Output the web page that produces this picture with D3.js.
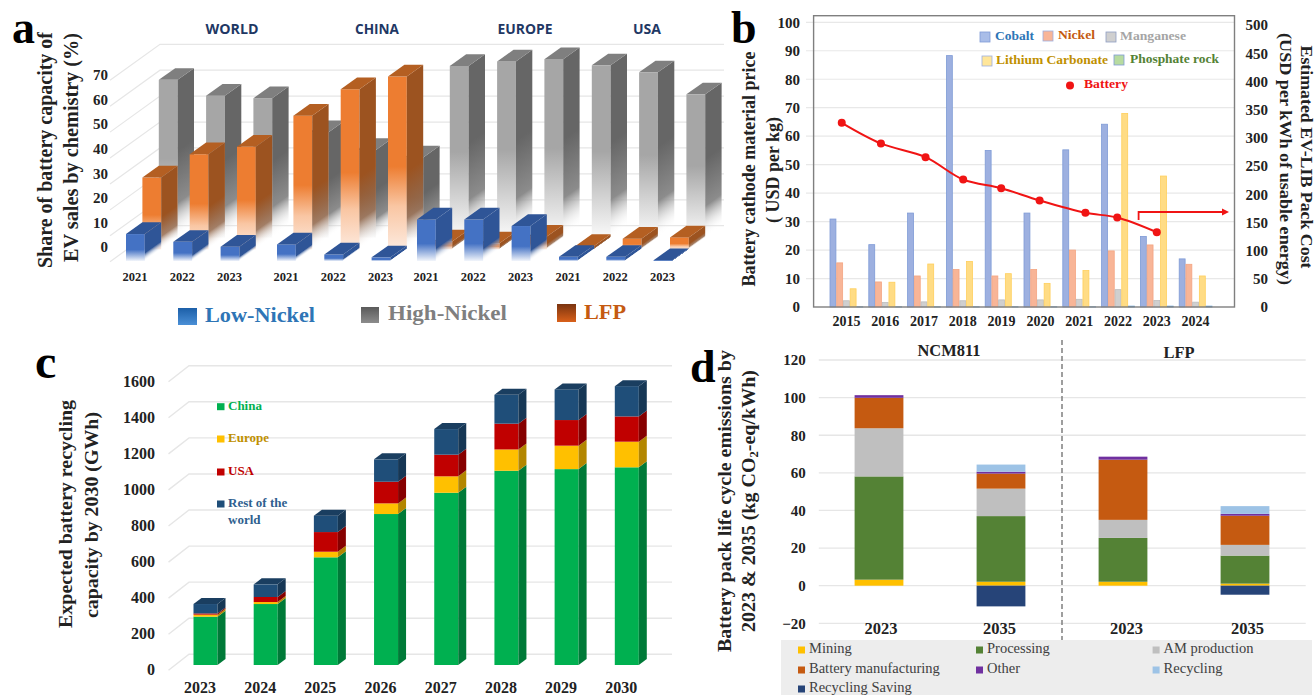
<!DOCTYPE html>
<html>
<head>
<meta charset="utf-8">
<script src="https://cdn.jsdelivr.net/npm/d3@7"></script>
<style>
body { margin: 0; background: #fff; }
text { font-family: "Liberation Serif", serif; }
</style>
</head>
<body>
<svg id="chart" width="1314" height="695"></svg>
<script>
// panel a - share of battery capacity
var a_regions = ["WORLD", "CHINA", "EUROPE", "USA"];
var a_years = ["2021", "2022", "2023"];
var a_lowNickel = [10.4, 7.4, 5.5, 6.4, 2.5, 1.4, 16, 16, 13.5, 1.6, 1.6, 0.3];
var a_lfp = [27.7, 36.7, 39.6, 51.6, 61.8, 66.7, 3, 2.3, 4.9, 1.3, 4.1, 4.6];
var a_highNickel = [60.9, 54.8, 53.8, 40.7, 33.8, 30.9, 66.3, 68, 68.9, 66.5, 63.8, 55.3];
var a_ticks = [0, 10, 20, 30, 40, 50, 60, 70];

// panel b - material prices and pack cost
var b_years = [2015, 2016, 2017, 2018, 2019, 2020, 2021, 2022, 2023, 2024];
var b_materials = ["Cobalt", "Nickel", "Manganese", "Lithium Carbonate", "Phosphate rock"];
var b_cobalt = [30.9, 21.9, 33, 88.3, 55, 33, 55.2, 64.2, 24.8, 16.9];
var b_nickel = [15.5, 8.8, 10.9, 13.2, 10.9, 13.2, 20, 19.7, 21.8, 15];
var b_manganese = [2.2, 1.6, 1.8, 2.2, 2.5, 2.5, 2.7, 6.1, 2.3, 1.7];
var b_lithium = [6.4, 8.7, 15.1, 16, 11.7, 8.3, 12.8, 68, 46, 10.9];
var b_phosphate = [0.05, 0.05, 0.05, 0.05, 0.05, 0.05, 0.05, 0.3, 0.3, 0.3];
var b_batteryYears = [2014.88, 2015.89, 2017.04, 2018.01, 2018.99, 2019.98, 2021.16, 2021.98, 2023];
var b_battery = [326.6, 290, 265.7, 226, 210.6, 188.8, 167, 158.6, 132.5];

// panel c - recycling capacity
var c_years = [2023, 2024, 2025, 2026, 2027, 2028, 2029, 2030];
var c_china = [268, 338, 597, 837, 955, 1077, 1086, 1096];
var c_europe = [11, 11, 31, 59, 91, 118, 130, 142];
var c_usa = [7, 28, 109, 120, 120, 143, 142, 140];
var c_rest = [52, 70, 91, 124, 142, 160, 170, 168];
var c_ticks = [0, 200, 400, 600, 800, 1000, 1200, 1400, 1600];

// panel d - life cycle emissions
var d_bars = ["NCM811 2023", "NCM811 2035", "LFP 2023", "LFP 2035"];
var d_labels = ["2023", "2035", "2023", "2035"];
var d_mining = [3.2, 2.1, 2.1, 1.1];
var d_processing = [54.9, 34.9, 23.3, 14.9];
var d_am = [25.6, 14.6, 9.6, 5.7];
var d_manufacturing = [16.2, 8, 32, 15.5];
var d_other = [1.4, 1, 1.6, 1];
var d_recycling = [0, 3.8, 0, 4.1];
var d_saving = [0, -11, 0, -4.8];
var d_ticks = [-20, 0, 20, 40, 60, 80, 100, 120];

var svg = d3.select("#chart");
var defs = svg.append("defs");
var gradCount = 0;

// helper for all the loose text, len squeezes it to the width in the picture
function label(x, y, str, size, color, opt) {
	opt = opt || {};
	var t = svg.append("text")
		.attr("transform", "translate(" + x + "," + y + ")" + (opt.rotate ? " rotate(" + opt.rotate + ")" : ""))
		.attr("text-anchor", opt.anchor || "start")
		.attr("dominant-baseline", opt.baseline || "middle")
		.attr("font-size", size)
		.attr("font-weight", opt.normal ? "normal" : "bold")
		.attr("fill", color)
		.text(str);
	if (opt.family) t.style("font-family", opt.family);
	if (opt.len) t.attr("textLength", opt.len).attr("lengthAdjust", "spacingAndGlyphs");
	return t;
}

// vertical gradient between y1 and y2, slope tilts it to follow a side face
function gradient(stops, y1, y2, xEdge, slope) {
	var id = "grad" + (gradCount++);
	var g = defs.append("linearGradient").attr("id", id)
		.attr("gradientUnits", "userSpaceOnUse")
		.attr("x1", 0).attr("x2", 0).attr("y1", y1).attr("y2", y2);
	if (slope) {
		g.attr("gradientTransform", "translate(" + xEdge + ",0) matrix(1," + (-slope) + ",0,1,0,0) translate(" + (-xEdge) + ",0)");
	}
	stops.forEach(function(s) {
		g.append("stop").attr("offset", s[0]).attr("stop-color", s[1]).attr("stop-opacity", s.length > 2 ? s[2] : 1);
	});
	return "url(#" + id + ")";
}

// one 3d column: front, side and top faces
function box(g, x, w, yTop, yBottom, dx, dy, front, side, top) {
	g.append("rect").attr("x", x).attr("y", yTop).attr("width", w).attr("height", Math.max(0, yBottom - yTop)).attr("fill", front);
	g.append("path").attr("fill", side).attr("d", "M" + (x + w) + "," + yTop + "l" + dx + "," + (-dy) + "V" + (yBottom - dy) + "l" + (-dx) + "," + dy + "Z");
	if (top) g.append("path").attr("fill", top).attr("d", "M" + x + "," + yTop + "l" + dx + "," + (-dy) + "h" + w + "l" + (-dx) + "," + dy + "Z");
}

function axisText(g, size) {
	g.select(".domain").remove();
	g.selectAll("text")
		.style("font-family", '"Liberation Serif", serif')
		.style("font-weight", "bold")
		.style("font-size", size + "px")
		.attr("fill", "#222");
}

/* ---------- panel a ---------- */
function panelA() {
	var g = svg.append("g");
	var dx = 16.4, dy = 11.7, w = 18.8, base = 261;
	var height = d3.scaleLinear().domain([0, 70]).range([0, 181.3]);
	var wallY = d3.scaleLinear().domain([0, 70]).range([225.7, 44.3]);

	// back wall and floor lines
	a_ticks.forEach(function(t) {
		g.append("path").attr("fill", "none").attr("stroke", "#e6e6e6").attr("stroke-width", 1.2)
			.attr("d", "M110," + (wallY(t) + 36) + "L160," + wallY(t) + "H724");
	});

	// regions do not sit evenly in the picture so each gets its own point scale
	var starts = [126, 277, 417, 559];
	var slotX = [];
	a_regions.forEach(function(r, i) {
		var x = d3.scalePoint().domain(a_years).range([starts[i], starts[i] + 94.6]);
		a_years.forEach(function(y) { slotX.push(x(y)); });
	});

	// the fades run per column, they start about half way down each one
	var series = [
		{ vals: a_highNickel, depth: 2, top: "#7f7f7f",
			front: [[0, "#a6a6a6"], [0.5, "#a6a6a6"], [0.75, "#d0d0d0"], [1, "#fafafa"]],
			side: [[0, "#666666"], [0.45, "#666666"], [0.78, "#8c8c8c"], [1, "#ffffff", 0]] },
		{ vals: a_lfp, depth: 1, top: "#b45f22",
			front: [[0, "#ed7d31"], [0.52, "#ed7d31"], [0.75, "#f9c6a3"], [1, "#fdeade"]],
			side: [[0, "#9c5320"], [0.55, "#9c5320"], [0.82, "#8a5a3a", 0.75], [1, "#ffffff", 0]] },
		{ vals: a_lowNickel, depth: 0, top: "#2f5597",
			front: [[0, "#4472c4"], [0.58, "#4472c4"], [1, "#f2f5fb"]],
			side: [[0, "#2f5597"], [0.7, "#2f5597"], [1, "#ffffff", 0]] }
	];
	series.forEach(function(s) {
		s.vals.forEach(function(v, i) {
			var bottom = base - s.depth * dy;
			var x = slotX[i] + s.depth * dx, yTop = bottom - height(v);
			box(g, x, w, yTop, bottom, dx, dy,
				gradient(s.front, yTop, bottom),
				gradient(s.side, yTop, bottom, x + w, dy / dx),
				s.top);
		});
	});

	// tick labels are not lined up with the wall, they have their own scale
	var tickY = d3.scaleLinear().domain([0, 70]).range([247, 75]);
	var ax = g.append("g").attr("transform", "translate(108,0)")
		.call(d3.axisLeft(tickY).tickValues(a_ticks).tickSize(0).tickPadding(0));
	axisText(ax, 15);

	slotX.forEach(function(x, i) {
		label(x + 9, 278, a_years[i % 3], 12.5, "#222", { anchor: "middle" });
	});

	var titleX = [232, 377, 525, 647], titleW = [53, 44, 55, 28];
	a_regions.forEach(function(r, i) {
		label(titleX[i], 30, r, 14, "#1f3864", { anchor: "middle", family: '"Open Sans", sans-serif', len: titleW[i] });
	});

	label(47, 150, "Share of battery capacity of", 20, "#222", { anchor: "middle", rotate: -90, len: 236 });
	label(73, 147.5, "EV sales by chemistry (%)", 20, "#222", { anchor: "middle", rotate: -90, len: 229 });

	// legend
	g.append("rect").attr("x", 178).attr("y", 308).attr("width", 19).attr("height", 17)
		.attr("fill", gradient([[0, "#1c5fa8"], [1, "#4a8fd6"]], 308, 325));
	g.append("rect").attr("x", 361).attr("y", 307).attr("width", 18).attr("height", 16)
		.attr("fill", gradient([[0, "#5a5a5a"], [1, "#8c8c8c"]], 307, 323));
	g.append("rect").attr("x", 557).attr("y", 304).attr("width", 19).attr("height", 18)
		.attr("fill", gradient([[0, "#7a3410"], [1, "#d9601a"]], 304, 322));
	label(205, 317, "Low-Nickel", 21, "#2e75b6", { len: 110 });
	label(388, 315, "High-Nickel", 21, "#7f7f7f", { len: 119 });
	label(584, 314, "LFP", 21, "#c55a11", { len: 42 });
}

/* ---------- panel b ---------- */
function panelB() {
	var g = svg.append("g");
	var left = 813.6, right = 1234.5, top = 15.7, bottom = 307;
	var y = d3.scaleLinear().domain([0, 100]).range([bottom, 22.3]);
	var yRight = d3.scaleLinear().domain([0, 500]).range([bottom, 25]);
	var x = d3.scaleBand().domain(b_years).range([827, 1215]);
	var xSub = d3.scaleBand().domain(b_materials).range([x.bandwidth() * 0.067, x.bandwidth() * 0.933]);
	// same spacing as the bands, for the line which is drawn off centre
	var xLine = d3.scaleLinear().domain([2015, 2024]).range([x(2015) + x.bandwidth() / 2, x(2024) + x.bandwidth() / 2]);

	d3.range(10, 101, 10).forEach(function(t) {
		g.append("line").attr("x1", 806).attr("x2", right).attr("y1", y(t)).attr("y2", y(t))
			.attr("stroke", "#e8e8e8").attr("stroke-width", 1.2);
	});

	var sets = [b_cobalt, b_nickel, b_manganese, b_lithium, b_phosphate];
	var fills = ["#9db0e0", "#f8b597", "#cfcfcf", "#ffdc85", "#a9d18e"];
	var strokes = ["#7f9bd6", "#f4a582", "#bdbdbd", "#ffcf5c", "#5b9bd5"];
	sets.forEach(function(vals, s) {
		g.selectAll(null).data(vals).join("rect")
			.attr("x", function(d, i) { return x(b_years[i]) + xSub(b_materials[s]) + 0.4; })
			.attr("width", xSub.bandwidth() - 0.8)
			.attr("y", function(d) { return y(d); })
			.attr("height", function(d) { return bottom - y(d); })
			.attr("fill", fills[s])
			.attr("stroke", strokes[s])
			.attr("stroke-width", 0.8);
	});

	g.append("rect").attr("x", left).attr("y", top).attr("width", right - left).attr("height", bottom - top)
		.attr("fill", "none").attr("stroke", "#7f7f7f").attr("stroke-width", 1.4);

	var line = d3.line()
		.x(function(d, i) { return xLine(b_batteryYears[i]); })
		.y(function(d) { return yRight(d); })
		.curve(d3.curveCatmullRom.alpha(0.5));
	g.append("path").datum(b_battery).attr("d", line).attr("fill", "none").attr("stroke", "#f01414").attr("stroke-width", 2);
	g.selectAll(null).data(b_battery).join("circle")
		.attr("cx", function(d, i) { return xLine(b_batteryYears[i]); })
		.attr("cy", function(d) { return yRight(d); })
		.attr("r", 4).attr("fill", "#f01414");

	// arrow pointing at the right hand axis
	g.append("path").attr("fill", "none").attr("stroke", "#f01414").attr("stroke-width", 1.8)
		.attr("d", "M1138.6,220V212H1223");
	g.append("path").attr("fill", "#f01414").attr("d", "M1229,212l-7,-3.5v7Z");

	var axL = g.append("g").attr("transform", "translate(800,0)")
		.call(d3.axisLeft(y).tickValues(d3.range(0, 101, 10)).tickSize(0).tickPadding(0));
	axisText(axL, 15);
	var axR = g.append("g").attr("transform", "translate(1268,0)")
		.call(d3.axisLeft(yRight).tickValues(d3.range(0, 501, 50)).tickSize(0).tickPadding(0));
	axisText(axR, 15);

	b_years.forEach(function(yr) {
		label(x(yr) + x.bandwidth() / 2, 323, yr, 14, "#222", { anchor: "middle" });
	});

	label(750.5, 169, "Battery cathode material price", 18, "#222", { anchor: "middle", rotate: -90, len: 235 });
	label(775, 170, "( USD per kg)", 18, "#222", { anchor: "middle", rotate: -90, len: 106 });
	label(1304.5, 157, "Estimated EV-LIB Pack Cost", 16, "#222", { anchor: "middle", rotate: 90, len: 223 });
	label(1284, 159, "(USD per kWh of usable energy)", 16, "#222", { anchor: "middle", rotate: 90, len: 252 });

	// legend
	var leg = [
		[980, 37, "Cobalt", 995, 39, "#2e75b6", "#a9bde8", "#7f9bd6"],
		[1043, 36, "Nickel", 1058, 37, "#c55a11", "#f8b597", "#9db0e0"],
		[1106, 37, "Manganese", 1120, 66, "#a5a5a5", "#cfcfcf", "#8f9fc4"],
		[982, 61, "Lithium Carbonate", 996, 112, "#bf9000", "#ffe69a", "#9db0e0"],
		[1114, 60, "Phosphate rock", 1130, 89, "#548235", "#b7dba0", "#7f9bd6"]
	];
	leg.forEach(function(l) {
		g.append("rect").attr("x", l[0]).attr("y", l[1] - 5).attr("width", 10).attr("height", 10)
			.attr("fill", l[6]).attr("stroke", l[7]).attr("stroke-width", 0.8);
		label(l[3], l[1], l[2], 13.5, l[5], { len: l[4] });
	});
	g.append("circle").attr("cx", 1070).attr("cy", 85.5).attr("r", 4).attr("fill", "#f01414");
	label(1084, 85, "Battery", 13.5, "#f01414", { len: 44 });
}

/* ---------- panel c ---------- */
function panelC() {
	var g = svg.append("g");
	var dx = 8, dy = 6, base = 665, w = 24;
	var x = d3.scalePoint().domain(c_years).range([193.5, 614.8]);
	var y = d3.scaleLinear().domain([0, 1600]).range([base, base - 288.6]);
	var wallY = d3.scaleLinear().domain([0, 1600]).range([654.3, 365.7]);

	c_ticks.forEach(function(t) {
		g.append("path").attr("fill", "none").attr("stroke", "#e6e6e6").attr("stroke-width", 1.4)
			.attr("d", "M168.5," + (wallY(t) + 16) + "L189," + wallY(t) + "H672");
	});

	var stackData = c_years.map(function(yr, i) {
		return { year: yr, China: c_china[i], Europe: c_europe[i], USA: c_usa[i], Rest: c_rest[i] };
	});
	var layers = d3.stack().keys(["China", "Europe", "USA", "Rest"])(stackData);
	var fronts = ["#00b050", "#ffc000", "#c00000", "#1f4e79"];
	var sides = ["#007a38", "#b38600", "#860000", "#163755"];

	layers.forEach(function(layer, s) {
		layer.forEach(function(d) {
			box(g, x(d.data.year), w, y(d[1]), y(d[0]), dx, dy, fronts[s], sides[s], s == 3 ? "#1a3e60" : null);
		});
	});

	var ax = g.append("g").attr("transform", "translate(155,0)")
		.call(d3.axisLeft(d3.scaleLinear().domain([0, 1600]).range([669, 381.7])).tickValues(c_ticks).tickFormat(d3.format("d")).tickSize(0).tickPadding(0));
	axisText(ax, 16);

	c_years.forEach(function(yr) {
		label(x(yr) + 6.5, 689, yr, 16, "#222", { anchor: "middle" });
	});

	label(68, 514, "Expected battery recycling", 19, "#222", { anchor: "middle", rotate: -90, len: 228 });
	label(94, 515, "capacity by 2030 (GWh)", 19, "#222", { anchor: "middle", rotate: -90, len: 206 });

	var legend = [["China", 406.7, "#00b050", "#00b050"], ["Europe", 439, "#ffc000", "#bf9000"], ["USA", 472, "#c00000", "#c00000"], ["Rest of the", 504, "#1f4e79", "#2f5f8f"]];
	legend.forEach(function(l) {
		g.append("rect").attr("x", 217).attr("y", l[1] - 3.5).attr("width", 7.5).attr("height", 7).attr("fill", l[2]);
		label(228, l[1], l[0], 13, l[3]);
	});
	label(228, 521, "world", 13, "#2f5f8f");
}

/* ---------- panel d ---------- */
function panelD() {
	var g = svg.append("g");
	var y = d3.scaleLinear().domain([-20, 120]).range([623.3, 360]);
	var x = d3.scaleBand().domain(d_bars).range([818, 1306]).paddingInner(0.6).paddingOuter(0.3);

	d_ticks.forEach(function(t) {
		g.append("line").attr("x1", 818.8).attr("x2", 1305.7).attr("y1", y(t)).attr("y2", y(t))
			.attr("stroke", "#e6e6e6").attr("stroke-width", 1.3);
	});

	var table = d_bars.map(function(b, i) {
		return { bar: b, Mining: d_mining[i], Processing: d_processing[i], AM: d_am[i], Manufacturing: d_manufacturing[i], Other: d_other[i], Recycling: d_recycling[i], Saving: d_saving[i] };
	});
	var keys = ["Mining", "Processing", "AM", "Manufacturing", "Other", "Recycling", "Saving"];
	var colors = ["#ffc000", "#548235", "#bfbfbf", "#c55a11", "#7030a0", "#9dc3e6", "#264478"];
	var layers = d3.stack().keys(keys).offset(d3.stackOffsetDiverging)(table);
	layers.forEach(function(layer, s) {
		g.selectAll(null).data(layer).join("rect")
			.attr("x", function(d) { return x(d.data.bar); })
			.attr("width", x.bandwidth())
			.attr("y", function(d) { return y(Math.max(d[0], d[1])); })
			.attr("height", function(d) { return Math.abs(y(d[0]) - y(d[1])); })
			.attr("fill", colors[s]);
	});

	g.append("line").attr("x1", 1062).attr("x2", 1062).attr("y1", 340).attr("y2", 640)
		.attr("stroke", "#7f7f7f").attr("stroke-width", 1.5).attr("stroke-dasharray", "5,3");

	var ax = g.append("g").attr("transform", "translate(805.7,0)")
		.call(d3.axisLeft(y).tickValues(d_ticks).tickSize(0).tickPadding(0));
	axisText(ax, 15);

	var labelOffset = [2, -1.5, 3.5, 2.5];
	d_bars.forEach(function(b, i) {
		label(x(b) + x.bandwidth() / 2 + labelOffset[i], 630, d_labels[i], 16.5, "#222", { anchor: "middle" });
	});
	label(949, 352, "NCM811", 17, "#222", { anchor: "middle", len: 63 });
	label(1179, 354, "LFP", 17, "#222", { anchor: "middle", len: 31 });

	label(727, 501, "Battery pack life cycle emissions by", 19, "#222", { anchor: "middle", rotate: -90, len: 302 });
	var t2 = label(751.4, 501, "", 19, "#222", { anchor: "middle", rotate: -90, len: 262 });
	t2.append("tspan").text("2023 & 2035 (kg CO");
	t2.append("tspan").attr("font-size", 12).attr("dy", 4).text("2");
	t2.append("tspan").attr("dy", -4).text("-eq/kWh)");

	// legend box, it runs off the bottom of the page
	g.append("rect").attr("x", 781).attr("y", 640).attr("width", 531).attr("height", 55).attr("fill", "#ededed");
	var names = ["Mining", "Processing", "AM production", "Battery manufacturing", "Other", "Recycling", "Recycling Saving"];
	var legX = [798, 976, 1152.6];
	var legY = [650, 670, 689];
	names.forEach(function(n, i) {
		var lx = legX[i % 3], ly = legY[Math.floor(i / 3)];
		var c = colors[i];
		g.append("rect").attr("x", lx).attr("y", ly - 3.5).attr("width", 7).attr("height", 7).attr("fill", c);
		label(lx + 11, ly, n, 14.5, "#404040", { normal: true });
	});
}

panelA();
panelB();
panelC();
panelD();

// panel letters go on last, set on their baseline
label(12, 43, "a", 46, "#000", { baseline: "alphabetic" });
label(731, 43, "b", 46, "#000", { baseline: "alphabetic" });
label(35, 378, "c", 48, "#000", { baseline: "alphabetic" });
label(690, 382, "d", 46, "#000", { baseline: "alphabetic" });
</script>
</body>
</html>
